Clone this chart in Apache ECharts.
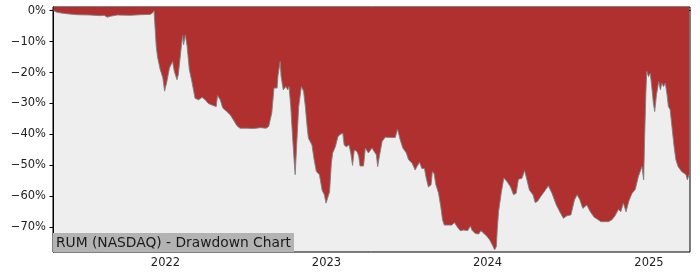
<!DOCTYPE html>
<html>
<head>
<meta charset="utf-8">
<script src="https://cdn.jsdelivr.net/npm/echarts@6/dist/echarts.min.js"></script>
<style>html,body{margin:0;padding:0;background:#fff}#c{width:700px;height:280px}</style>
</head>
<body>
<div id="c"></div>
<script>
const dates = [
'2021-04-22','2021-04-30','2021-05-12','2021-05-23','2021-06-15','2021-07-14','2021-08-06','2021-08-15','2021-08-22','2021-08-29','2021-09-14','2021-10-13','2021-11-05','2021-11-27','2021-12-02','2021-12-06',
'2021-12-11','2021-12-14','2021-12-20','2021-12-26','2021-12-30',
'2022-01-04','2022-01-10','2022-01-17','2022-01-21','2022-01-27','2022-01-30','2022-02-06','2022-02-09','2022-02-11','2022-02-15','2022-02-19','2022-02-24',
'2022-03-02','2022-03-09','2022-03-17','2022-03-25','2022-04-01','2022-04-08','2022-04-20','2022-04-26','2022-04-29','2022-05-05','2022-05-11','2022-05-20','2022-05-28',
'2022-06-04','2022-06-12','2022-06-19','2022-07-05','2022-07-20','2022-08-04','2022-08-17','2022-08-23','2022-08-30',
'2022-09-04','2022-09-11','2022-09-13','2022-09-18','2022-09-20','2022-09-25','2022-10-01','2022-10-05','2022-10-08','2022-10-12','2022-10-16','2022-10-20','2022-10-22','2022-10-26','2022-10-30',
'2022-11-05','2022-11-10','2022-11-14','2022-11-18','2022-11-21','2022-11-29','2022-12-04','2022-12-09','2022-12-16','2022-12-22','2022-12-27','2022-12-31',
'2023-01-03','2023-01-08','2023-01-12','2023-01-15','2023-01-21','2023-01-27','2023-02-01','2023-02-07','2023-02-10','2023-02-15','2023-02-21','2023-02-25',
'2023-03-01','2023-03-05','2023-03-11','2023-03-15','2023-03-18','2023-03-26','2023-03-30','2023-04-03','2023-04-06','2023-04-14','2023-04-19','2023-04-24','2023-04-27',
'2023-05-01','2023-05-07','2023-05-14','2023-05-29','2023-06-06','2023-06-11','2023-06-17','2023-06-23',
'2023-07-01','2023-07-06','2023-07-14','2023-07-21','2023-07-25','2023-07-31','2023-08-05','2023-08-11','2023-08-15','2023-08-20','2023-08-26','2023-08-29',
'2023-09-02','2023-09-06','2023-09-12','2023-09-17','2023-09-21','2023-09-25','2023-10-05','2023-10-12','2023-10-18','2023-10-24','2023-10-31',
'2023-11-08','2023-11-17','2023-11-23','2023-11-27','2023-12-04','2023-12-12','2023-12-17','2023-12-24','2023-12-31',
'2024-01-06','2024-01-12','2024-01-17','2024-01-21','2024-01-23','2024-01-26','2024-02-01','2024-02-07','2024-02-11','2024-02-14','2024-02-22','2024-02-29',
'2024-03-06','2024-03-11','2024-03-19','2024-03-25','2024-03-30','2024-04-05','2024-04-13','2024-04-18','2024-04-23',
'2024-05-01','2024-05-11','2024-05-18','2024-05-26','2024-06-05','2024-06-14','2024-06-21','2024-06-29',
'2024-07-08','2024-07-16','2024-07-22','2024-07-28','2024-08-04','2024-08-13','2024-08-21','2024-08-30',
'2024-09-06','2024-09-14','2024-09-22','2024-10-01','2024-10-09','2024-10-16','2024-10-24','2024-10-29',
'2024-11-04','2024-11-10','2024-11-16','2024-11-23','2024-12-01','2024-12-08','2024-12-16','2024-12-20','2024-12-22','2024-12-25','2024-12-27','2024-12-31',
'2025-01-04','2025-01-08','2025-01-11','2025-01-14','2025-01-18','2025-01-23','2025-01-27','2025-01-30',
'2025-02-03','2025-02-07','2025-02-11','2025-02-14','2025-02-18','2025-02-22','2025-02-27','2025-03-03','2025-03-08','2025-03-16','2025-03-21','2025-03-26','2025-03-29','2025-04-02'
];
const drawdown = [
0,-0.5,-0.8,-1.0,-1.3,-1.4,-1.6,-1.5,-2.1,-1.8,-1.4,-1.5,-1.3,-1.2,-0.8,0,
-11.5,-15,-19,-21.7,-26,
-23,-18.5,-16.4,-19.6,-22.3,-20.7,-11.5,-8,-11,-7.8,-11.5,-19,
-23,-28.3,-28.8,-28,-28.8,-30,-30.7,-31,-27.4,-28.8,-31.5,-32.6,-33.7,
-35.3,-37.2,-38,-38,-38.1,-37.8,-38,-37.4,-33,
-25,-25,-21,-16.4,-21.2,-25.6,-24.5,-25.6,-24.5,-31,-40.7,-49.3,-53,-41.7,-31,
-24.5,-26,-31,-37.4,-41.2,-43.4,-48.2,-52,-53,-58,-59.5,-62.2,
-62.2,-58.5,-49.3,-46,-44,-40.7,-40,-39.6,-43.4,-44,-43.4,-46,
-50,-45,-45.5,-47,-50.2,-50.2,-44.4,-44.2,-46,-44.4,-45.5,-46.6,-50.4,
-47,-42.3,-40.9,-41,-41,-38.3,-41.7,-44.4,
-46,-48.2,-49.3,-51.5,-50.4,-49,-51,-51,-54.1,-57,-56.3,-52,
-52.7,-56.3,-59,-63.3,-67.6,-69.3,-69.3,-69.3,-68.5,-69.8,-71.1,
-70.9,-71.1,-69.6,-71,-72,-72.2,-71.1,-72,-73,
-74.1,-75.7,-77.3,-76.3,-70.9,-65,-59,-54.1,-54.5,-55.2,-56.9,-59.5,
-59,-54.5,-54.2,-51.7,-54.5,-58,-59.5,-62,-61.7,
-60,-58,-56.6,-59,-62.8,-65.3,-67.1,-66.3,
-66,-61.2,-59.5,-61,-63.9,-62.8,-65,-66.8,
-67.4,-68.2,-68.2,-68.2,-67.6,-66.3,-64.2,-65,
-62.2,-65,-61.7,-59.2,-57.7,-53.6,-50.4,-54.7,-41.7,-26.6,-19.6,-21.3,
-20.2,-25.6,-29.9,-32.6,-27.2,-22.9,-25.6,-23.4,
-24.5,-23.4,-27.2,-31,-32,-37.4,-44,-48.2,-50.4,-52,-52.5,-53,-54.7,-53
];
const yTicks = [0,-10,-20,-30,-40,-50,-60,-70];
const xTicks = ['2022-01-01','2023-01-01','2024-01-01','2025-01-01'];
const titleText = 'RUM (NASDAQ) - Drawdown Chart';
const xRange = ['2021-04-21','2025-04-04'];
const yRange = [-78, 1.2];

function day(s){const p=s.split('-').map(Number);return Date.UTC(p[0],p[1]-1,p[2]);}
const data = dates.map((d,i)=>[day(d), drawdown[i]]);
const font = 'DejaVu Sans';

const chart = echarts.init(document.getElementById('c'), null, {renderer:'canvas'});
chart.setOption({
  animation:false,
  backgroundColor:'#ffffff',
  grid:{left:53,right:10,top:7,bottom:28,show:true,backgroundColor:'#eeeeee',borderColor:'#000',borderWidth:1,containLabel:false},
  title:{text:titleText,left:53,bottom:28,backgroundColor:'#b3b3b3',padding:[2,3,1,3],itemGap:0,
    textStyle:{fontFamily:font,fontSize:13.8,fontWeight:'normal',color:'#1a1a1a',lineHeight:16}},
  xAxis:{type:'value',min:day(xRange[0]),max:day(xRange[1]),
    axisLine:{show:true,lineStyle:{color:'#000',width:1}},
    axisTick:{show:true,length:3.5,lineStyle:{color:'#000'},customValues:xTicks.map(day)},
    axisLabel:{customValues:xTicks.map(day),margin:5,color:'#222',fontFamily:font,fontSize:11.5,
      formatter:v=>String(new Date(v).getUTCFullYear())},
    splitLine:{show:false}},
  yAxis:{type:'value',min:yRange[0],max:yRange[1],
    axisLine:{show:true,lineStyle:{color:'#000',width:1}},
    axisTick:{show:true,length:3.5,lineStyle:{color:'#000'},customValues:yTicks},
    axisLabel:{customValues:yTicks,margin:7,color:'#222',fontFamily:font,fontSize:11.5,
      formatter:v=>(v<0?'\u2212':'')+Math.abs(Math.round(v))+'%'},
    splitLine:{show:false}},
  series:[{type:'line',data:data,showSymbol:false,symbol:'none',
    lineStyle:{color:'#808080',width:0.9},
    areaStyle:{color:'#b03030',opacity:1,origin:'end'}}]
});
</script>
</body>
</html>
